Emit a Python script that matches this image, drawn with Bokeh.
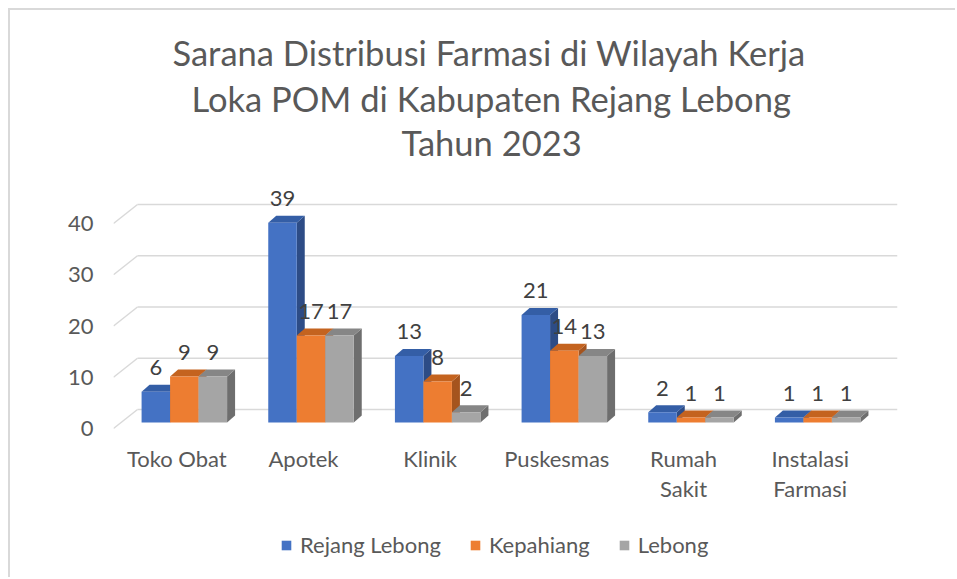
from bokeh.plotting import figure
from bokeh.models import FixedTicker, Legend, LegendItem, Title
from bokeh.layouts import column
from bokeh.core.properties import value
from bokeh.embed import file_html
from bokeh.resources import INLINE

# ---------------- data ----------------
categories = ["Toko Obat", "Apotek", "Klinik", "Puskesmas", "Rumah Sakit", "Instalasi Farmasi"]
category_labels = ["Toko Obat", "Apotek", "Klinik", "Puskesmas", "Rumah\nSakit", "Instalasi\nFarmasi"]
series_names = ["Rejang Lebong", "Kepahiang", "Lebong"]
rejang_lebong = [6, 39, 13, 21, 2, 1]
kepahiang = [9, 17, 8, 14, 1, 1]
lebong = [9, 17, 2, 13, 1, 1]
y_ticks = [0, 10, 20, 30, 40]
title_lines = ["Sarana Distribusi Farmasi di Wilayah Kerja",
               "Loka POM di Kabupaten Rejang Lebong",
               "Tahun 2023"]

# ---------------- style ----------------
front_colors = ["#4472C4", "#ED7D31", "#A5A5A5"]
top_colors = ["#345EA6", "#C4631F", "#868686"]
side_colors = ["#2D4C86", "#A5541E", "#6E6E6E"]
FONT = "Lato"
TXT = "#595959"

# geometry (pixels); layout content starts at page (10, 10)
ORIGIN = 10
FRONT_W = 760.0           # width of front floor edge
N = len(categories)
PX_X = FRONT_W / N        # px per category slot
FDX, FDY = 24.0, 19.0     # floor depth (back wall offset)
FRAME_LEFT = 113 - ORIGIN
FRAME_TOP = 163.0 - ORIGIN
FRAME_BOTTOM = 440.0 - ORIGIN
ZERO_Y = 428.0 - ORIGIN
FRAME_H = FRAME_BOTTOM - FRAME_TOP
PX_Y = 5.125
BAR_W = 28.5
BOX, BOY = 7.5, 6.0       # bar front offset within floor depth
BDX, BDY = 8.0, 7.0       # bar depth
LABEL_GAP = 24.0
BOTTOM_BORDER = 80
TOTAL_W = 945
LEG_H = 57
LEGEND_LEFT = 280 - 113   # relative to the (aligned) frame left edge

x_start = -0.5
x_end = N - 0.5 + FDX / PX_X
y_start = -(FRAME_BOTTOM - ZERO_Y) / PX_Y
y_end = y_start + FRAME_H / PX_Y

p = figure(frame_width=int(FRONT_W + FDX), frame_height=int(FRAME_H),
           x_range=(x_start, x_end), y_range=(y_start, y_end),
           output_backend="svg", toolbar_location=None,
           min_border_left=FRAME_LEFT, min_border_right=TOTAL_W - FRAME_LEFT - int(FRONT_W + FDX),
           min_border_top=int(FRAME_TOP), min_border_bottom=BOTTOM_BORDER)
p.outline_line_color = None
p.xgrid.visible = False
p.ygrid.visible = False
p.background_fill_color = "white"
p.border_fill_color = "white"

# back wall gridlines and left-wall diagonals
gx0 = [x_start + FDX / PX_X for _ in y_ticks]
gx1 = [x_end for _ in y_ticks]
gy = [t + FDY / PX_Y for t in y_ticks]
p.segment(x0=gx0, y0=gy, x1=gx1, y1=gy, line_color="#D9D9D9", line_width=1.5)
p.segment(x0=[x_start] * len(y_ticks), y0=y_ticks, x1=gx0, y1=gy, line_color="#D9D9D9", line_width=1.5)

# bars
w = BAR_W / PX_X
ox, oy = BOX / PX_X, BOY / PX_Y
dx, dy = BDX / PX_X, BDY / PX_Y
all_series = [rejang_lebong, kepahiang, lebong]
for s, vals in enumerate(all_series):
    lefts, rights, tops, sx, sy, tx, ty, cx, ly, txt = [], [], [], [], [], [], [], [], [], []
    for i, v in enumerate(vals):
        x0 = i - 1.5 * w + s * w + ox
        x1 = x0 + w
        base = oy
        top = v + oy
        lefts.append(x0); rights.append(x1); tops.append(top)
        sx.append([x1, x1 + dx, x1 + dx, x1]); sy.append([base, base + dy, top + dy, top])
        tx.append([x0, x1, x1 + dx, x0 + dx]); ty.append([top, top, top + dy, top + dy])
        cx.append((x0 + x1) / 2); ly.append(top + LABEL_GAP / PX_Y); txt.append(str(v))
    p.patches(xs=sx, ys=sy, fill_color=side_colors[s], line_color=None)
    p.patches(xs=tx, ys=ty, fill_color=top_colors[s], line_color=None)
    p.quad(left=lefts, right=rights, bottom=[oy] * N, top=tops,
           fill_color=front_colors[s], line_color=None)
    p.text(x=cx, y=ly, text=txt, text_align="center", text_baseline="middle",
           text_font=value(FONT), text_font_size="22px", text_color="#404040")

# axes
p.yaxis.ticker = FixedTicker(ticks=y_ticks)
p.yaxis.axis_line_color = None
p.yaxis.major_tick_line_color = None
p.yaxis.minor_tick_line_color = None
p.yaxis.major_tick_out = 0
p.yaxis.major_tick_in = 0
p.yaxis.minor_tick_out = 0
p.yaxis.major_label_standoff = 20
p.yaxis.major_label_text_font = FONT
p.yaxis.major_label_text_font_size = "22px"
p.yaxis.major_label_text_color = TXT

p.xaxis.ticker = FixedTicker(ticks=list(range(N)))
p.xaxis.major_label_overrides = {i: lab for i, lab in enumerate(category_labels)}
p.xaxis.axis_line_color = None
p.xaxis.major_tick_line_color = None
p.xaxis.minor_tick_line_color = None
p.xaxis.major_tick_out = 0
p.xaxis.major_tick_in = 0
p.xaxis.minor_tick_out = 0
p.xaxis.major_label_standoff = 4
p.xaxis.major_label_text_font = FONT
p.xaxis.major_label_text_font_size = "22px"
p.xaxis.major_label_text_line_height = 1.12
p.xaxis.major_label_text_color = TXT

title_offsets = [59, 78, 288]
title_standoffs = [5, 1, 1]
for line, off, so in reversed(list(zip(title_lines, title_offsets, title_standoffs))):
    t = Title(text=line, align="left", text_font=FONT, text_font_size="34.5px",
              text_font_style="normal", text_color=TXT, standoff=so, offset=off)
    p.add_layout(t, "above")

# legend strip (separate small figure so the legend is not clipped)
p2 = figure(width=TOTAL_W, height=LEG_H, x_range=(0, 1), y_range=(0, 1),
            output_backend="svg", toolbar_location=None,
            x_axis_location=None, y_axis_location=None,
            min_border_left=0, min_border_right=0, min_border_top=0, min_border_bottom=0)
p2.outline_line_color = None
p2.xgrid.visible = False
p2.ygrid.visible = False
nan = float("nan")
legend_items = []
for s in range(3):
    # placeholder renderer (not drawn) that only supplies the legend swatch style
    r = p2.quad(left=[nan], right=[nan], bottom=[nan], top=[nan],
                fill_color=front_colors[s], line_color=None)
    legend_items.append(LegendItem(label=series_names[s], renderers=[r]))
legend = Legend(items=legend_items, orientation="horizontal", location=(LEGEND_LEFT, 19),
                glyph_width=12, glyph_height=12, label_standoff=8, spacing=28,
                label_text_font=FONT, label_text_font_size="22px", label_text_color=TXT,
                border_line_color=None, background_fill_alpha=0, margin=0, padding=0)
p2.add_layout(legend, "center")

layout = column(p, p2, spacing=0, margin=(8, 0, 0, 8),
                styles={"border-top": "2px solid #D9D9D9", "border-left": "2px solid #D9D9D9"})

open("out.html", "w").write(file_html(layout, INLINE))
